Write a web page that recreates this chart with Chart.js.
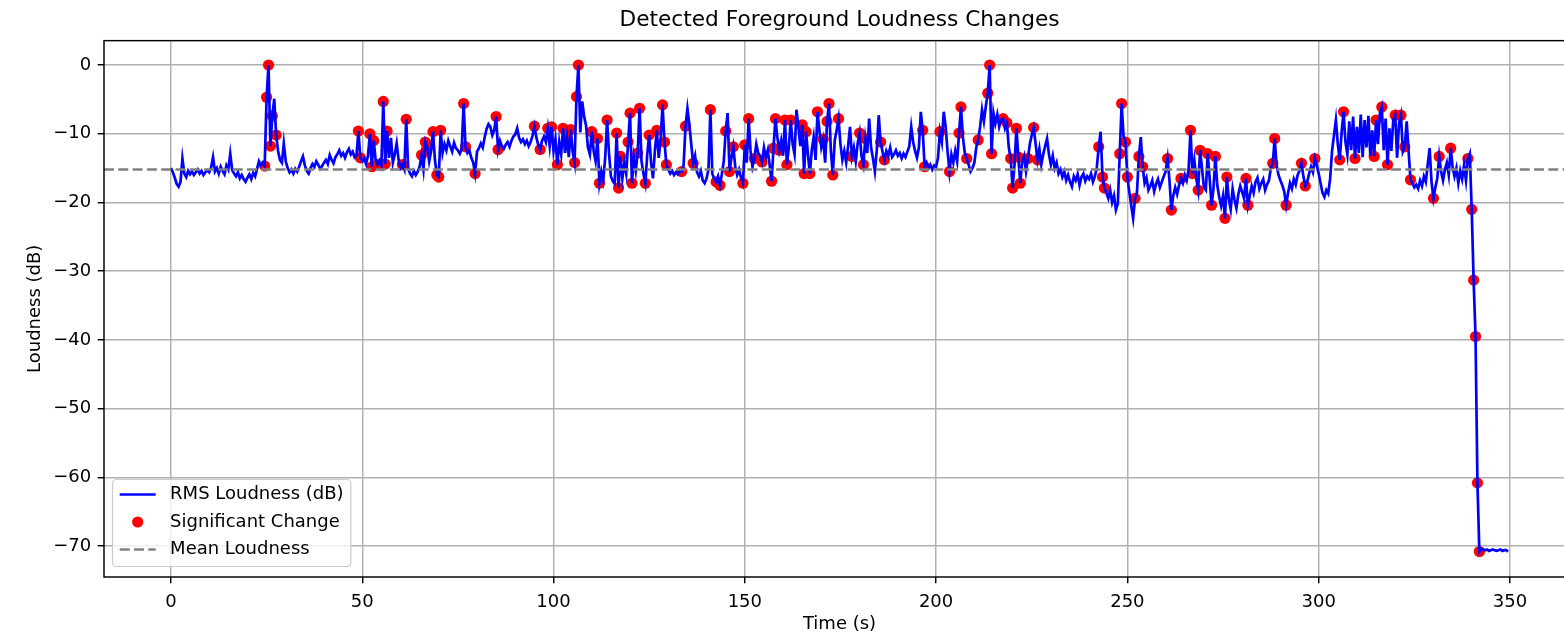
<!DOCTYPE html>
<html>
<head>
<meta charset="utf-8">
<title>Detected Foreground Loudness Changes</title>
<script src="https://cdn.jsdelivr.net/npm/chart.js@4.4.0/dist/chart.umd.min.js"></script>
<style>
  html, body { margin: 0; padding: 0; background: #ffffff; overflow: hidden; }
  canvas { display: block; }
</style>
</head>
<body>
<canvas id="chart" width="1600" height="638"></canvas>
<script>
// RMS loudness frames, one every hopSeconds, starting at t = 0 s
const hopSeconds = 0.5;

const loudnessDb = [
  -15.0, -15.6, -16.4, -17.3, -17.7, -17.0, -13.6, -15.8, -16.3, -15.4, -15.9, -15.5, -16.0, -15.6, -15.2, -15.8, -15.4, -16.0, -15.6, -15.3,
  -15.6, -14.9, -13.4, -15.5, -15.0, -15.8, -14.8, -15.4, -15.9, -14.6, -15.2, -12.9, -15.3, -15.8, -16.2, -15.6, -16.5, -16.0, -16.6, -17.0,
  -16.4, -15.9, -16.6, -15.7, -16.2, -15.1, -14.0, -14.6, -14.2, -14.7, -4.7, 0.0, -11.8, -7.4, -4.9, -10.2, -12.5, -13.8, -14.2, -11.4,
  -14.0, -15.0, -15.6, -15.2, -15.8, -15.1, -15.5, -14.8, -14.0, -13.3, -14.6, -15.4, -15.8, -15.0, -14.4, -14.8, -14.0, -14.5, -15.1, -14.7,
  -14.2, -13.8, -14.4, -13.1, -13.8, -14.3, -13.4, -13.0, -12.4, -13.2, -12.8, -13.5, -12.7, -12.2, -13.0, -12.6, -13.4, -13.1, -9.6, -13.5,
  -14.0, -13.6, -14.4, -13.2, -10.0, -14.8, -11.0, -13.8, -14.5, -13.9, -14.6, -5.3, -14.4, -9.6, -13.5, -10.6, -14.2, -13.0, -11.4, -13.8,
  -15.0, -14.5, -15.2, -7.9, -15.0, -15.8, -16.2, -15.4, -16.0, -15.5, -14.8, -13.1, -15.2, -11.2, -12.0, -14.0, -12.5, -9.7, -13.8, -16.0,
  -16.3, -9.5, -12.8, -11.5, -12.4, -11.0, -11.8, -12.6, -11.3, -12.1, -12.4, -12.9, -12.2, -5.6, -11.9, -12.8, -12.4, -13.5, -14.2, -15.8,
  -12.6, -12.1, -11.4, -12.0, -10.5, -9.3, -8.6, -9.0, -10.2, -9.5, -7.5, -12.3, -11.0, -11.8, -12.2, -11.6, -11.2, -11.9, -11.0, -10.4,
  -10.1, -9.2, -10.6, -11.2, -10.8, -11.5, -11.0, -11.8, -11.2, -10.3, -8.9, -10.5, -11.6, -12.3, -11.0, -10.4, -11.2, -9.2, -11.8, -9.0,
  -12.5, -10.8, -14.5, -11.2, -13.0, -9.2, -12.8, -10.5, -13.4, -9.4, -12.6, -14.2, -4.6, 0.0, -9.8, -5.3, -7.5, -8.8, -12.0, -13.0,
  -9.7, -12.5, -14.0, -10.7, -17.2, -15.5, -16.8, -13.5, -8.0, -12.8, -16.2, -16.9, -17.3, -9.9, -17.9, -13.3, -16.5, -14.2, -15.8, -11.2,
  -7.0, -17.2, -13.5, -15.4, -12.8, -6.3, -14.0, -15.8, -17.2, -13.0, -10.2, -14.2, -16.5, -12.4, -9.5, -13.5, -10.8, -5.8, -11.2, -14.5,
  -15.2, -15.8, -15.4, -16.0, -15.6, -15.9, -15.3, -15.5, -14.6, -8.9, -6.3, -8.6, -11.5, -14.3, -13.2, -15.6, -16.2, -15.4, -16.8, -17.2,
  -16.5, -15.2, -6.5, -15.8, -16.6, -17.0, -16.2, -17.5, -15.9, -14.0, -9.6, -7.0, -15.5, -13.5, -11.9, -14.8, -16.0, -15.2, -16.4, -17.2,
  -11.6, -14.2, -7.8, -12.5, -14.8, -13.6, -11.5, -12.8, -13.2, -14.1, -12.0, -13.5, -12.4, -14.6, -16.9, -12.1, -7.8, -10.5, -12.4, -11.0,
  -13.2, -8.0, -14.5, -12.0, -8.0, -11.5, -13.0, -6.5, -9.0, -11.8, -8.7, -15.8, -9.7, -13.0, -15.8, -12.4, -10.5, -13.8, -6.8, -9.5,
  -12.0, -10.8, -14.2, -8.2, -5.6, -12.5, -16.0, -11.0, -9.5, -7.8, -11.5, -13.8, -12.5, -14.2, -11.8, -9.0, -13.3, -12.0, -14.0, -11.4,
  -9.9, -13.2, -14.5, -10.7, -12.8, -7.8, -12.0, -13.6, -15.5, -12.4, -7.3, -11.2, -12.6, -13.8, -12.5, -13.2, -12.0, -13.4, -13.0, -12.4,
  -13.2, -12.8, -13.6, -12.9, -13.4, -12.6, -11.8, -9.0, -11.2, -12.5, -13.5, -12.0, -6.8, -9.5, -14.8, -14.2, -15.0, -14.5, -15.2, -14.6,
  -14.8, -13.5, -9.7, -11.2, -6.8, -9.0, -12.6, -15.5, -13.0, -14.2, -12.5, -14.0, -9.9, -6.1, -10.5, -12.8, -13.6, -14.5, -15.5, -15.0,
  -14.2, -12.0, -10.9, -9.0, -6.5, -8.2, -6.0, -4.1, 0.0, -12.9, -7.0, -8.5, -7.2, -9.0, -8.0, -7.8, -9.2, -8.4, -12.0, -13.6,
  -17.9, -14.5, -9.2, -13.4, -17.2, -14.0, -13.2, -15.5, -13.6, -11.5, -10.2, -9.1, -11.4, -13.8, -12.2, -14.5, -13.0, -11.8, -10.7, -13.0,
  -14.5, -13.2, -15.0, -14.2, -15.8, -15.2, -16.3, -15.5, -16.8, -16.0, -17.0, -17.7, -16.2, -16.8, -15.9, -17.5, -16.3, -15.8, -16.9, -16.2,
  -16.6, -15.8, -17.0, -16.2, -15.0, -11.9, -9.7, -16.3, -17.9, -18.6, -19.4, -18.2, -20.0, -19.0, -21.1, -20.2, -12.9, -5.6, -10.4, -11.2,
  -16.3, -18.5, -20.4, -22.3, -19.4, -18.6, -13.3, -10.5, -14.8, -17.2, -16.4, -18.2, -17.6, -16.8, -18.4, -17.3, -16.6, -17.8, -17.0, -16.2,
  -15.5, -13.6, -16.8, -21.1, -19.0, -17.8, -18.8, -17.5, -16.5, -17.2, -16.0, -16.8, -15.2, -9.5, -15.8, -13.8, -16.5, -18.2, -12.4, -15.0,
  -17.8, -18.2, -12.9, -16.5, -20.4, -18.0, -13.3, -17.5, -19.2, -20.5, -19.0, -22.3, -16.3, -19.5, -21.0, -18.0, -19.6, -20.8, -18.8, -17.6,
  -18.5, -19.4, -16.5, -20.4, -19.0, -17.6, -18.6, -17.0, -16.4, -18.0, -17.2, -16.6, -18.2, -17.4, -16.8, -15.0, -14.3, -10.7, -14.6, -16.0,
  -16.8, -17.5, -18.4, -20.4, -18.6, -17.2, -18.0, -16.6, -17.4, -16.0, -15.4, -14.3, -16.2, -17.6, -17.0, -15.8, -14.8, -15.6, -13.6, -14.6,
  -15.8, -17.2, -18.6, -19.2, -18.2, -18.7, -16.5, -12.5, -10.2, -8.0, -11.5, -13.8, -9.8, -6.8, -11.2, -13.0, -8.2, -12.4, -7.5, -13.6,
  -9.0, -12.8, -7.2, -13.4, -8.0, -12.0, -7.4, -13.2, -9.5, -13.3, -8.0, -11.5, -7.0, -6.1, -12.4, -7.8, -14.5, -9.2, -12.5, -8.0,
  -7.3, -13.5, -8.5, -7.3, -12.6, -11.9, -8.2, -12.5, -16.7, -17.2, -17.8, -17.4, -18.0, -16.8, -17.6, -16.2, -17.0, -14.5, -12.1, -17.0,
  -19.4, -17.8, -16.5, -13.3, -15.5, -16.8, -15.2, -14.2, -16.0, -12.1, -14.8, -16.2, -15.0, -17.2, -15.4, -16.6, -14.6, -16.8, -13.6, -12.9,
  -21.0, -31.3, -39.5, -60.8, -70.8, -70.4, -70.5, -70.6, -70.5, -70.7, -70.6, -70.5, -70.6, -70.7, -70.6, -70.5, -70.7, -70.6, -70.6, -70.8
];

// Frames flagged as a significant loudness change (seconds)
const changeTimes = [
  24.5, 25, 25.5, 26, 26.5, 27.5,
  49, 49.5, 52, 52.5, 53, 54, 55, 55.5, 56, 56.5,
  60.5, 61.5, 65.5, 66.5, 67, 68.5, 69.5, 70, 70.5, 76.5, 77, 79.5,
  85, 85.5, 95, 96.5, 98.5, 99.5,
  101, 102.5, 103.5, 104.5, 105.5, 106, 106.5,
  110, 111.5, 112, 114, 116.5, 117, 117.5, 119.5,
  120, 120.5, 122, 122.5, 124, 125, 127, 128.5, 129, 129.5,
  133.5, 134.5, 136.5,
  141, 142.5, 143.5, 145, 146, 147, 149.5,
  150, 151, 152.5, 154.5, 157, 157.5, 158, 159,
  160.5, 161, 162, 165, 165.5, 166, 167, 169,
  170.5, 171.5, 172, 173, 174.5, 178,
  180, 181, 181.5, 185.5, 186.5, 196.5, 197,
  201, 203.5, 206, 206.5, 208,
  211, 213.5, 214, 214.5, 217.5, 218.5, 219.5,
  220, 221, 221.5, 222, 224, 225.5, 226.5,
  242.5, 243.5, 244, 248, 248.5, 249.5,
  250, 252, 253, 254,
  260.5, 261.5, 264, 266.5, 267, 268.5, 269,
  271, 272, 273, 275.5, 276,
  281, 281.5, 288, 288.5,
  291.5, 295.5, 296.5, 299,
  305.5, 306.5, 309.5,
  314.5, 315, 316.5, 318,
  320, 321.5, 322.5, 324,
  330, 331.5, 334.5, 339,
  340, 340.5, 341, 341.5, 342
];

const meanLoudnessDb = -15.2;

const xTickValues = [0, 50, 100, 150, 200, 250, 300, 350];
const yTickValues = [-70, -60, -50, -40, -30, -20, -10, 0];
const xLimits = [-17.5, 367];
const yLimits = [-74.5, 3.55];

const seriesLabels = ['RMS Loudness (dB)', 'Significant Change', 'Mean Loudness'];

// ---- build chart data from the arrays above ----
const rmsPoints = loudnessDb.map((v, i) => ({ x: i * hopSeconds, y: v }));
const changePoints = changeTimes.map(t => ({ x: t, y: loudnessDb[Math.round(t / hopSeconds)] }));
const meanPoints = [{ x: xLimits[0], y: meanLoudnessDb }, { x: xLimits[1], y: meanLoudnessDb }];

const FONT = 'DejaVu Sans, Liberation Sans, sans-serif';
const LABEL_SIZE = 18;
Chart.defaults.font.family = FONT;
Chart.defaults.color = '#000000';

const minusSign = v => (v < 0 ? '\u2212' + Math.abs(v) : String(v));

// axes frame (all four spines)
const spines = {
  id: 'spines',
  afterDatasetsDraw(chart) {
    const { ctx, chartArea: a } = chart;
    ctx.save();
    ctx.strokeStyle = '#000000';
    ctx.lineWidth = 1.45;
    ctx.strokeRect(a.left, a.top, a.right - a.left, a.bottom - a.top);
    ctx.restore();
  }
};

// framed legend in the lower-left corner of the plot
const cornerLegend = {
  id: 'cornerLegend',
  afterDraw(chart) {
    const { ctx, chartArea: a } = chart;
    const ds = chart.data.datasets;
    ctx.save();
    ctx.font = LABEL_SIZE + 'px ' + FONT;
    const textW = Math.max(...ds.map(d => ctx.measureText(d.label).width));
    const x0 = a.left + 8.5, h = 87;
    const sx0 = x0 + 7.2, sx1 = sx0 + 36, tx = sx1 + 14.4;
    const w = (tx - x0) + textW + 7.2;
    const y0 = a.bottom - 10.5 - h;
    const r = 4;
    ctx.beginPath();
    ctx.moveTo(x0 + r, y0);
    ctx.lineTo(x0 + w - r, y0);
    ctx.arcTo(x0 + w, y0, x0 + w, y0 + r, r);
    ctx.lineTo(x0 + w, y0 + h - r);
    ctx.arcTo(x0 + w, y0 + h, x0 + w - r, y0 + h, r);
    ctx.lineTo(x0 + r, y0 + h);
    ctx.arcTo(x0, y0 + h, x0, y0 + h - r, r);
    ctx.lineTo(x0, y0 + r);
    ctx.arcTo(x0, y0, x0 + r, y0, r);
    ctx.closePath();
    ctx.fillStyle = 'rgba(255,255,255,0.8)';
    ctx.fill();
    ctx.strokeStyle = '#cccccc';
    ctx.lineWidth = 1.2;
    ctx.stroke();

    const rowY = [y0 + 15, y0 + 42.5, y0 + 70];
    ds.forEach((d, i) => {
      const y = rowY[i];
      if (d.type === 'scatter') {
        ctx.beginPath();
        ctx.arc((sx0 + sx1) / 2, y, d.pointRadius, 0, Math.PI * 2);
        ctx.fillStyle = d.backgroundColor;
        ctx.fill();
      } else {
        ctx.beginPath();
        ctx.setLineDash(d.borderDash || []);
        ctx.moveTo(sx0, y);
        ctx.lineTo(sx1, y);
        ctx.strokeStyle = d.borderColor;
        ctx.lineWidth = d.borderWidth;
        ctx.stroke();
        ctx.setLineDash([]);
      }
      ctx.fillStyle = '#000000';
      ctx.textBaseline = 'middle';
      ctx.textAlign = 'left';
      ctx.fillText(d.label, tx, y);
    });
    ctx.restore();
  }
};

new Chart(document.getElementById('chart'), {
  type: 'line',
  data: {
    datasets: [
      {
        type: 'line',
        label: seriesLabels[0],
        data: rmsPoints,
        borderColor: '#0000ff',
        borderWidth: 2.7,
        pointRadius: 0,
        tension: 0,
        fill: false,
        order: 2
      },
      {
        type: 'scatter',
        label: seriesLabels[1],
        data: changePoints,
        backgroundColor: '#ff0000',
        borderWidth: 0,
        pointRadius: 5.6,
        pointHoverRadius: 5.6,
        order: 3
      },
      {
        type: 'line',
        label: seriesLabels[2],
        data: meanPoints,
        borderColor: '#808080',
        borderWidth: 2.7,
        borderDash: [10, 4.3],
        pointRadius: 0,
        fill: false,
        order: 1
      }
    ]
  },
  options: {
    responsive: false,
    animation: false,
    events: [],
    layout: { padding: { left: 0, right: 25, top: 0, bottom: 0 } },
    plugins: {
      legend: { display: false },
      tooltip: { enabled: false },
      title: {
        display: true,
        text: 'Detected Foreground Loudness Changes',
        fullSize: false,
        color: '#000000',
        font: { size: 21.7, weight: 'normal', family: FONT, lineHeight: 1.2 },
        padding: { top: 7.4, bottom: 7.2 }
      }
    },
    scales: {
      x: {
        type: 'linear',
        min: xLimits[0],
        max: xLimits[1],
        afterBuildTicks: s => { s.ticks = xTickValues.map(v => ({ value: v })); },
        afterFit: s => { s.height = 61; },
        border: { display: false },
        grid: { color: '#b0b0b0', lineWidth: 1.45, tickColor: '#000000', tickLength: 6.3, tickWidth: 1.45 },
        ticks: { font: { size: LABEL_SIZE }, padding: 8, maxRotation: 0, callback: v => minusSign(v) },
        title: { display: true, text: 'Time (s)', font: { size: LABEL_SIZE }, padding: { top: 0, bottom: 3.2 } }
      },
      y: {
        type: 'linear',
        min: yLimits[0],
        max: yLimits[1],
        afterBuildTicks: s => { s.ticks = yTickValues.map(v => ({ value: v })); },
        afterFit: s => { s.width = 104; },
        border: { display: false },
        grid: { color: '#b0b0b0', lineWidth: 1.45, tickColor: '#000000', tickLength: 6.3, tickWidth: 1.45 },
        ticks: { font: { size: LABEL_SIZE }, padding: 6.5, callback: v => minusSign(v) },
        title: { display: true, text: 'Loudness (dB)', font: { size: LABEL_SIZE }, padding: { top: 24.2, bottom: 0 } }
      }
    }
  },
  plugins: [spines, cornerLegend]
});
</script>
</body>
</html>
